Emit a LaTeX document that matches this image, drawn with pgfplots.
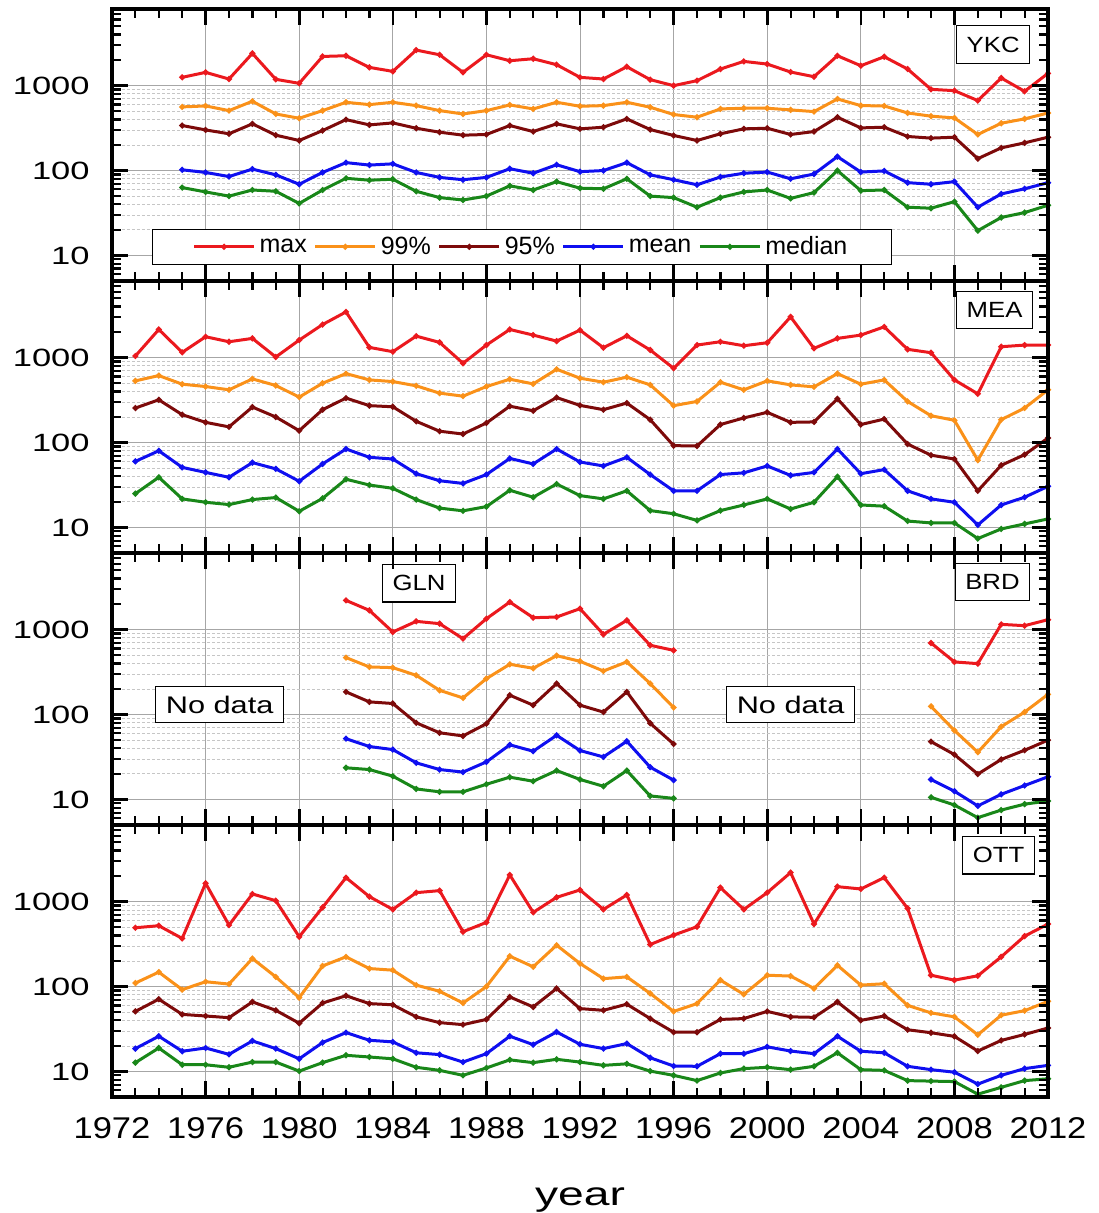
\documentclass[border=0pt]{standalone}
\usepackage{fontspec}
\setmainfont{Liberation Sans}
\newfontfamily\fxt{Liberation Sans}[FakeStretch=1.15]
\newfontfamily\fyt{Liberation Sans}[FakeStretch=1.38]
\newfontfamily\fyr{Liberation Sans}[FakeStretch=1.4]
\newfontfamily\flb{Liberation Sans}[FakeStretch=1.17]
\newfontfamily\fnd{Liberation Sans}[FakeStretch=1.28]
\usepackage{pgfplots}
\usepackage{pgfplotstable}
\pgfplotsset{compat=1.18}

\definecolor{cmax}{RGB}{235,25,30}
\definecolor{cnn}{RGB}{250,145,25}
\definecolor{cnf}{RGB}{125,10,10}
\definecolor{cmean}{RGB}{15,15,240}
\definecolor{cmed}{RGB}{25,135,25}

\pgfplotstableread{
year max p99 p95 mean median
1975 1253 562 339 102 63
1976 1434 577 301 95 56
1977 1197 508 271 85 50
1978 2398 655 355 104 59
1979 1187 464 261 89 57
1980 1065 413 226 69 41
1981 2208 508 296 95 59
1982 2251 637 398 124 81
1983 1641 598 345 116 77
1984 1473 637 364 120 79
1985 2625 582 315 95 57
1986 2312 508 283 83 48
1987 1434 464 261 78 45
1988 2312 508 266 83 50
1989 1966 593 339 105 66
1990 2075 532 288 93 59
1991 1766 637 355 117 74
1992 1253 572 310 97 62
1993 1197 582 324 100 61
1994 1671 637 406 124 80
1995 1177 557 304 89 50
1996 1000 457 259 78 48
1997 1145 425 226 68 37
1998 1570 532 271 84 48
1999 1931 542 310 93 56
2000 1796 542 315 96 59
2001 1447 518 266 80 47
2002 1275 495 288 91 55
2003 2251 697 425 146 100
2004 1717 582 318 96 58
2005 2190 577 324 99 59
2006 1570 477 252 72 37
2007 905 437 241 69 36
2008 873 417 247 74 43
2009 667 266 138 37 19.6
2010 1230 361 185 53 28
2011 858 406 212 61 32
2012 1396 477 247 72 39
}\ykc

\pgfplotstableread{
year max p99 p95 mean median
1973 1046 533 255 60 25
1974 2148 615 319 80 39
1975 1155 487 213 51 21.7
1976 1763 457 173 44.5 19.8
1977 1540 418 153 39 18.6
1978 1686 562 262 58 21.3
1979 1018 470 200 49 22.5
1980 1611 343 138 35 15.5
1981 2456 500 244 56 22
1982 3458 649 334 84 37
1983 1321 547 272 67 31.6
1984 1176 523 264 64 28.9
1985 1794 466 178 43 21.3
1986 1513 382 136 35.5 16.9
1987 858 352 126 33 15.7
1988 1407 457 170 42 17.6
1989 2148 557 268 65 27.4
1990 1845 491 237 56 22.7
1991 1567 730 339 84 32.5
1992 2109 573 274 59 23.7
1993 1310 514 244 53 21.7
1994 1811 589 292 67 27
1995 1230 478 186 42 15.8
1996 750 272 92 27 14.5
1997 1407 305 91 27 12.1
1998 1540 514 163 42 15.8
1999 1382 418 195 44 18.4
2000 1499 533 227 53 21.7
2001 3021 478 173 41 16.5
2002 1286 453 175 44.5 19.8
2003 1686 649 328 84 39.6
2004 1845 487 163 43 18.4
2005 2306 547 189 48 17.8
2006 1253 305 96 27 11.9
2007 1144 207 71 21.7 11.3
2008 547 183 64 19.8 11.3
2009 375 62 27 10.7 7.4
2010 1345 186 54 18.4 9.6
2011 1407 255 72 22.7 11
2012 1407 418 113 30.5 12.6
}\mea

\pgfplotstableread{
year max p99 p95 mean median
1982 2213 469 185 52 23.6
1983 1688 364 141 42 22.5
1984 939 357 135 38.7 18.8
1985 1253 290 80 27 13.3
1986 1177 193 61 22.5 12.3
1987 784 157 56 21 12.3
1988 1346 265 78 27.7 15.1
1989 2115 391 169 44 18.3
1990 1384 351 129 37 16.4
1991 1409 494 232 57 21.9
1992 1767 424 129 37.7 17.2
1993 881 326 107 31.7 14.3
1994 1288 417 185 48.5 21.9
1995 655 232 79 24 11
1996 571 121 45 16.9 10.3
}\gln

\pgfplotstableread{
year max p99 p95 mean median
2007 697 125 48 17.2 10.6
2008 417 65 33.8 12.5 8.6
2009 398 36 19.9 8.4 6.1
2010 1155 72 29.6 11.5 7.5
2011 1114 107 38 14.6 8.8
2012 1311 173 50 18.5 9.6
}\brd

\pgfplotstableread{
year max p99 p95 mean median
1973 493 110 51 18.6 12.7
1974 521 148 71 26 18.9
1975 369 92 47 17.3 12
1976 1647 114 45 18.9 12
1977 530 107 43 15.9 11.2
1978 1232 214 66 22.9 12.9
1979 1027 130 52.5 18.6 12.9
1980 386 74 37 14.1 10.1
1981 857 175 64 21.9 12.7
1982 1920 224 78 28.7 15.5
1983 1146 163 63 23.3 14.8
1984 811 156 61 22.3 14.1
1985 1277 104 44 16.6 11.2
1986 1349 88 37.6 15.8 10.3
1987 443 64 35.6 12.9 9
1988 570 100 41 16.2 11
1989 2065 228 75.5 26 13.7
1990 748 171 57.5 20.7 12.7
1991 1125 307 95 29.2 13.9
1992 1374 187 55 20.9 12.9
1993 811 124 52.5 18.6 11.8
1994 1199 130 62 21.3 12.3
1995 313 83 42 14.5 10.1
1996 404 51 29 11.6 9
1997 507 63 29 11.5 7.8
1998 1463 119 41 16.2 9.6
1999 811 81 42 16.2 10.8
2000 1277 136 51 19.5 11.2
2001 2203 133 44 17.4 10.5
2002 545 95 43.4 16.2 11.5
2003 1503 178 66 26 16.6
2004 1411 104 40 17.3 10.5
2005 1920 108 45 16.6 10.3
2006 834 60 31 11.5 7.8
2007 136 49 28.6 10.5 7.7
2008 119 44 25.9 9.8 7.6
2009 134 27 17.4 7.1 5.4
2010 224 46 23.2 9 6.5
2011 393 52 27.3 10.8 7.8
2012 545 67 32.5 11.8 8.2
}\ott

\tikzset{
  lbl/.style={draw=black, line width=0.6pt, fill=white, font=\flb\fontsize{11pt}{13pt}\selectfont, inner xsep=5pt, inner ysep=5.5pt},
  nd/.style={draw=black, line width=0.6pt, fill=white, font=\fnd\fontsize{12pt}{14pt}\selectfont, inner xsep=5pt, inner ysep=4.6pt},
  xtl/.style={font=\fxt\fontsize{15pt}{17pt}\selectfont, anchor=north, inner sep=0pt, yshift=-10pt},
  ytl/.style={font=\fyt\fontsize{12.5pt}{14pt}\selectfont, anchor=east, inner sep=0pt, xshift=-11pt},
  mgrid/.style={draw=gray!70, line width=0.5pt},
  ngrid/.style={draw=gray!45, dash pattern=on 1.5pt off 1pt, line width=0.4pt},
  tkM/.style={draw=black, line width=1.3pt},
  tkm/.style={draw=black, line width=1.1pt},
}

\newcommand{\fiveplots}[1]{%
  \addplot[cmax, line width=1.5pt, mark=*, mark size=0.6pt] table[x=year,y=max] {#1};
  \addplot[cnn, line width=1.5pt, mark=*, mark size=0.6pt] table[x=year,y=p99] {#1};
  \addplot[cnf, line width=1.5pt, mark=*, mark size=0.6pt] table[x=year,y=p95] {#1};
  \addplot[cmean, line width=1.5pt, mark=*, mark size=0.6pt] table[x=year,y=mean] {#1};
  \addplot[cmed, line width=1.5pt, mark=*, mark size=0.6pt] table[x=year,y=median] {#1};
}

% frame and inward tick marks, drawn after the axis content
\newcommand{\myframe}{%
  \foreach \x in {1973,...,2011} {%
    \draw[tkm] (axis cs:\x,5) -- ++(0pt,4.5pt);
    \draw[tkm] (axis cs:\x,8000) -- ++(0pt,-4.5pt);
  }%
  \foreach \x in {1972,1976,...,2012} {%
    \draw[tkM] (axis cs:\x,5) -- ++(0pt,8pt);
    \draw[tkM] (axis cs:\x,8000) -- ++(0pt,-8pt);
  }%
  \foreach \v in {6,7,8,9,20,30,40,50,60,70,80,90,200,300,400,500,600,700,800,900,2000,3000,4000,5000,6000,7000} {%
    \draw[tkm] (axis cs:1972,\v) -- ++(4.5pt,0pt);
    \draw[tkm] (axis cs:2012,\v) -- ++(-4.5pt,0pt);
  }%
  \foreach \v in {10,100,1000} {%
    \draw[tkM] (axis cs:1972,\v) -- ++(8pt,0pt);
    \draw[tkM] (axis cs:2012,\v) -- ++(-8pt,0pt);
  }%
  \draw[black, line width=1.6pt] (rel axis cs:0,0) rectangle (rel axis cs:1,1);
}

\begin{document}
\begin{tikzpicture}
% Panel 1: YKC
\begin{axis}[scale only axis, width=468pt, height=136pt, anchor=north west, at={(0pt,0pt)},
    xmin=1972, xmax=2012, ymode=log, ymin=5, ymax=8000,
    xtick={1972,1976,...,2012}, minor x tick num=3, xticklabels={},
    ytick={10,100,1000}, yticklabels={10,100,1000},
    grid=both, major grid style={mgrid}, minor grid style={ngrid},
    axis line style={line width=1.5pt, black},
    major tick length=0pt, minor tick length=0pt,
    yticklabel style={ytl},
    after end axis/.code={\myframe},
  legend columns=5,
  legend style={at={(0.0427,0.059)}, anchor=south west, draw=black, line width=0.6pt,
    font=\fontsize{12.5pt}{14pt}\selectfont, inner xsep=20pt, inner ysep=1.5pt,
    /tikz/every even column/.append style={column sep=1.5pt}},
  legend image code/.code={\draw[mark repeat=2,mark phase=2,line width=1.5pt] plot coordinates {(0pt,0pt) (15pt,0pt) (30pt,0pt)};},
]
\fiveplots{\ykc}
\legend{max,99\%,95\%,mean,median}
\node[lbl, anchor=north east] at (rel axis cs:0.981,0.941) {YKC};
\end{axis}
% Panel 2: MEA
\begin{axis}[scale only axis, width=468pt, height=136pt, anchor=north west, at={(0pt,-136pt)},
    xmin=1972, xmax=2012, ymode=log, ymin=5, ymax=8000,
    xtick={1972,1976,...,2012}, minor x tick num=3, xticklabels={},
    ytick={10,100,1000}, yticklabels={10,100,1000},
    grid=both, major grid style={mgrid}, minor grid style={ngrid},
    axis line style={line width=1.5pt, black},
    major tick length=0pt, minor tick length=0pt,
    yticklabel style={ytl},
    after end axis/.code={\myframe},
]
\fiveplots{\mea}
\node[lbl, anchor=north east] at (rel axis cs:0.984,0.963) {MEA};
\end{axis}
% Panel 3: GLN / BRD
\begin{axis}[scale only axis, width=468pt, height=136pt, anchor=north west, at={(0pt,-272pt)},
    xmin=1972, xmax=2012, ymode=log, ymin=5, ymax=8000,
    xtick={1972,1976,...,2012}, minor x tick num=3, xticklabels={},
    ytick={10,100,1000}, yticklabels={10,100,1000},
    grid=both, major grid style={mgrid}, minor grid style={ngrid},
    axis line style={line width=1.5pt, black},
    major tick length=0pt, minor tick length=0pt,
    yticklabel style={ytl},
    after end axis/.code={\myframe},
]
\fiveplots{\gln}
\fiveplots{\brd}
\node[lbl, anchor=north] at (rel axis cs:0.328,0.96) {GLN};
\node[lbl, anchor=north east] at (rel axis cs:0.981,0.963) {BRD};
\node[nd] at (axis cs:1976.6,131) {No data};
\node[nd] at (axis cs:2001,131) {No data};
\end{axis}
% Panel 4: OTT
\begin{axis}[scale only axis, width=468pt, height=136pt, anchor=north west, at={(0pt,-408pt)},
    xmin=1972, xmax=2012, ymode=log, ymin=5, ymax=8000,
    xtick={1972,1976,...,2012}, minor x tick num=3,
    xticklabels={1972,1976,1980,1984,1988,1992,1996,2000,2004,2008,2012},
    ytick={10,100,1000}, yticklabels={10,100,1000},
    grid=both, major grid style={mgrid}, minor grid style={ngrid},
    axis line style={line width=1.5pt, black},
    major tick length=0pt, minor tick length=0pt,
    yticklabel style={ytl}, xticklabel style={xtl},
    after end axis/.code={\myframe},
    xlabel={year},
    xlabel style={font=\fyr\fontsize{16.5pt}{19pt}\selectfont, at={(axis description cs:0.5,0)}, anchor=center, yshift=-51.5pt},
]
\fiveplots{\ott}
\node[lbl, anchor=north east] at (rel axis cs:0.986,0.96) {OTT};
\end{axis}
\pgfresetboundingbox
\path[use as bounding box] (-56pt,4.5pt) rectangle (493pt,-602pt);
\end{tikzpicture}
\end{document}
